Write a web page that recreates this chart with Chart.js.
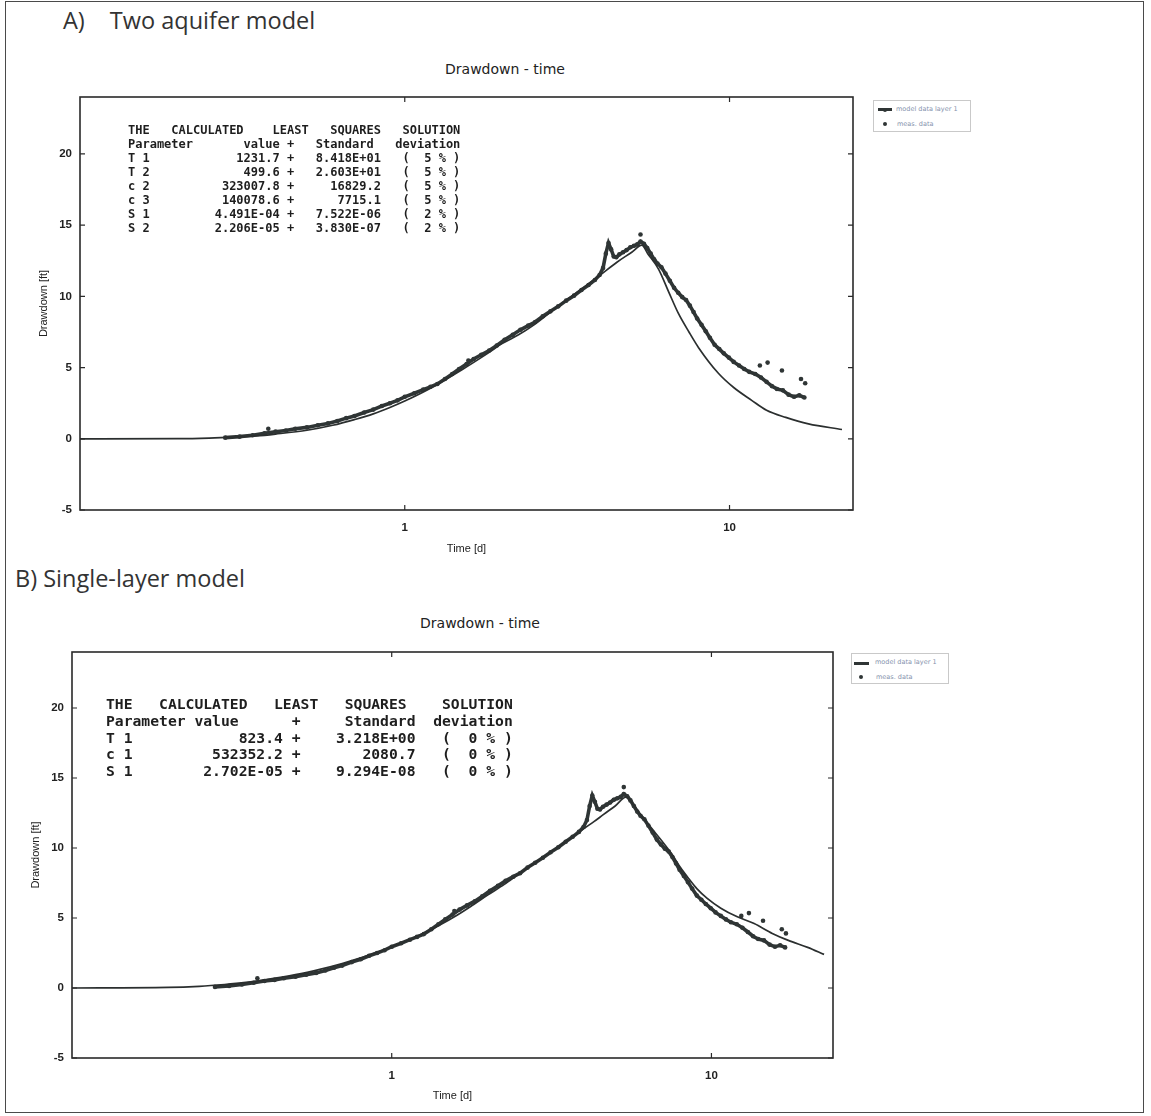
<!DOCTYPE html>
<html><head><meta charset="utf-8">
<script src="https://cdn.jsdelivr.net/npm/chart.js@4.4.0/dist/chart.umd.min.js"></script>
<style>
html,body{margin:0;padding:0;background:#fff;}
body{width:1151px;height:1116px;position:relative;overflow:hidden;}
.frame{position:absolute;left:5px;top:1px;width:1139px;height:1112px;border:1.5px solid #4a4a4a;box-sizing:border-box;}
.heading{position:absolute;font-family:"Open Sans",sans-serif;font-size:23.5px;color:#333;line-height:22px;white-space:pre;}
.ctitle{position:absolute;font-family:"DejaVu Sans",sans-serif;font-size:14px;color:#222;line-height:14px;transform:translateX(-50%);white-space:nowrap;}
canvas{position:absolute;left:0;}
.lsq{position:absolute;margin:0;font-family:"DejaVu Sans Mono",monospace;font-weight:bold;color:#1e1e1e;white-space:pre;}
.legend{position:absolute;border:1px solid #c9c9c9;box-sizing:border-box;background:#fff;width:98px;height:32px;}
.legend .ln{position:absolute;height:3px;background:#2f3535;}
.legend .dot{position:absolute;width:4px;height:4px;border-radius:50%;background:#2f3535;}
.legend .tx{position:absolute;font-family:"DejaVu Sans",sans-serif;font-size:6.5px;line-height:7px;color:#8592ad;white-space:nowrap;}
</style>
</head>
<body>
<div class="frame"></div>

<div class="heading" style="left:63px;top:9px;">A)<span style="margin-left:25px">Two aquifer model</span></div>
<div class="ctitle" style="left:505px;top:62px;">Drawdown - time</div>
<canvas id="chartA" width="870" height="470" style="top:90px;"></canvas>
<pre class="lsq" id="lsqA" style="left:128px;top:123px;font-size:12px;line-height:14.05px;"></pre>
<div class="legend" style="left:873px;top:100px;">
  <div class="ln" style="left:4px;top:7px;width:14px;"></div>
  <div class="dot" style="left:9px;top:6.5px;"></div>
  <div class="tx" style="left:22px;top:5px;">model data layer 1</div>
  <div class="dot" style="left:9px;top:21px;"></div>
  <div class="tx" style="left:23px;top:19.5px;">meas. data</div>
</div>

<div class="heading" style="left:15px;top:567px;">B) Single-layer model</div>
<div class="ctitle" style="left:480px;top:616px;">Drawdown - time</div>
<canvas id="chartB" width="850" height="470" style="top:645px;"></canvas>
<pre class="lsq" id="lsqB" style="left:106px;top:696px;font-size:14.7px;line-height:16.8px;"></pre>
<div class="legend" style="left:851px;top:653px;height:31px;">
  <div class="ln" style="left:2px;top:8px;width:15px;"></div>
  <div class="tx" style="left:23px;top:5px;">model data layer 1</div>
  <div class="dot" style="left:7px;top:21px;"></div>
  <div class="tx" style="left:24px;top:19.5px;">meas. data</div>
</div>

<script>
// ---------------- data ----------------
const timeTickLabels = [1, 10];
const drawdownTickLabels = [-5, 0, 5, 10, 15, 20];

const lsqTextA = [
  "THE   CALCULATED    LEAST   SQUARES   SOLUTION",
  "Parameter       value +   Standard   deviation",
  "T 1            1231.7 +   8.418E+01   (  5 % )",
  "T 2             499.6 +   2.603E+01   (  5 % )",
  "c 2          323007.8 +     16829.2   (  5 % )",
  "c 3          140078.6 +      7715.1   (  5 % )",
  "S 1         4.491E-04 +   7.522E-06   (  2 % )",
  "S 2         2.206E-05 +   3.830E-07   (  2 % )"
];
const lsqTextB = [
  "THE   CALCULATED   LEAST   SQUARES    SOLUTION",
  "Parameter value      +     Standard  deviation",
  "T 1            823.4 +    3.218E+00   (  0 % )",
  "c 1         532352.2 +       2080.7   (  0 % )",
  "S 1        2.702E-05 +    9.294E-08   (  0 % )"
];

// Two aquifer model (computed curve)
const modelATime     = [0.1, 0.2, 0.25, 0.3, 0.35, 0.4, 0.5, 0.6, 0.7, 0.8, 0.9, 1.0, 1.2, 1.5, 1.8, 2.0, 2.24, 2.5, 3.0, 3.5, 4.0, 4.5, 5.0, 5.37, 5.6, 6.05, 6.5, 6.96, 7.5, 8.03, 9.24, 10.3, 11.7, 13.0, 14.9, 17.5, 22.2];
const modelADrawdown = [0.0, 0.01, 0.05, 0.12, 0.2, 0.33, 0.6, 0.95, 1.35, 1.75, 2.2, 2.65, 3.55, 4.85, 6.0, 6.7, 7.3, 8.0, 9.4, 10.5, 11.5, 12.4, 13.1, 13.6, 13.0, 11.9, 10.3, 8.8, 7.5, 6.4, 4.6, 3.6, 2.7, 2.0, 1.5, 1.05, 0.65];

// Single-layer model (computed curve)
const modelBTime     = [0.1, 0.2, 0.25, 0.3, 0.35, 0.4, 0.5, 0.6, 0.7, 0.8, 0.9, 1.0, 1.2, 1.4, 1.6, 1.8, 2.0, 2.25, 2.5, 3.0, 3.5, 4.0, 4.3, 4.6, 5.0, 5.42, 5.7, 6.0, 6.5, 7.0, 7.5, 8.0, 8.5, 9.0, 9.7, 10.7, 12.0, 13.6, 15.5, 17.4, 20.0, 22.5];
const modelBDrawdown = [0.0, 0.04, 0.12, 0.25, 0.4, 0.58, 0.95, 1.35, 1.75, 2.15, 2.55, 2.95, 3.7, 4.45, 5.2, 5.95, 6.65, 7.4, 8.15, 9.4, 10.45, 11.4, 11.9, 12.4, 13.0, 13.65, 13.1, 12.4, 11.4, 10.5, 9.6, 8.6, 7.8, 7.1, 6.4, 5.7, 5.1, 4.6, 3.9, 3.4, 2.9, 2.4];

// Measured drawdown (observation well)
const measTime = [0.28, 0.31, 0.34, 0.37, 0.40, 0.43, 0.46, 0.50, 0.54, 0.58, 0.62, 0.66, 0.70, 0.75, 0.80, 0.85, 0.90, 0.95, 1.00, 1.07, 1.14, 1.20, 1.26, 1.33, 1.40, 1.47, 1.55, 1.63, 1.72, 1.82, 1.92, 2.03, 2.15, 2.27, 2.40, 2.52, 2.66, 2.81, 2.97, 3.14, 3.32, 3.50, 3.68, 3.85, 3.98, 4.08, 4.16, 4.24, 4.32, 4.40, 4.48, 4.58, 4.70, 4.82, 4.95, 5.08, 5.20, 5.32, 5.45, 5.58, 5.72, 5.86, 6.00, 6.17, 6.35, 6.55, 6.75, 6.95, 7.15, 7.35, 7.55, 7.75, 7.95, 8.20, 8.45, 8.70, 9.00, 9.30, 9.60, 9.95, 10.3, 10.7, 11.1, 11.5, 12.0, 12.5, 13.0, 13.5, 14.0, 14.6, 15.2, 15.8, 16.4, 17.0];
const measDrawdown = [0.08, 0.15, 0.25, 0.38, 0.50, 0.58, 0.70, 0.80, 0.95, 1.08, 1.25, 1.45, 1.60, 1.85, 2.05, 2.30, 2.50, 2.70, 2.95, 3.20, 3.45, 3.65, 3.85, 4.20, 4.55, 4.90, 5.25, 5.60, 5.90, 6.20, 6.55, 6.95, 7.30, 7.65, 7.95, 8.20, 8.60, 8.95, 9.30, 9.70, 10.05, 10.45, 10.80, 11.15, 11.50, 12.00, 13.00, 13.75, 13.30, 12.80, 12.75, 12.95, 13.10, 13.25, 13.45, 13.55, 13.65, 13.85, 13.70, 13.40, 13.00, 12.60, 12.30, 12.05, 11.60, 11.10, 10.60, 10.25, 9.95, 9.75, 9.35, 8.90, 8.45, 8.00, 7.55, 7.10, 6.60, 6.30, 6.00, 5.70, 5.40, 5.15, 4.90, 4.70, 4.55, 4.30, 4.00, 3.70, 3.50, 3.40, 3.10, 2.95, 3.05, 2.90];
const measExtraTime     = [0.38, 1.57, 5.32, 12.4, 13.1, 14.5, 16.6, 17.1];
const measExtraDrawdown = [0.70, 5.50, 14.35, 5.15, 5.35, 4.80, 4.20, 3.90];

// ---------------- rendering ----------------
document.getElementById('lsqA').textContent = lsqTextA.join('\n');
document.getElementById('lsqB').textContent = lsqTextB.join('\n');

function pts(xs, ys) { return xs.map((x, i) => ({ x: x, y: ys[i] })); }
function isDecade(v) { const l = Math.log10(v); return Math.abs(l - Math.round(l)) < 1e-9; }

const frameTicks = {
  id: 'frameTicks',
  afterDatasetsDraw(chart) {
    const { ctx, chartArea: a, scales: { x, y } } = chart;
    ctx.save();
    ctx.strokeStyle = '#2a2a2a';
    ctx.lineWidth = 1.6;
    ctx.strokeRect(a.left, a.top, a.right - a.left, a.bottom - a.top);
    ctx.lineWidth = 1.2;
    ctx.beginPath();
    y.ticks.forEach(t => {
      if (!drawdownTickLabels.includes(t.value)) return;
      const p = y.getPixelForValue(t.value);
      ctx.moveTo(a.left, p); ctx.lineTo(a.left + 5, p);
      ctx.moveTo(a.right, p); ctx.lineTo(a.right - 5, p);
    });
    x.ticks.forEach(t => {
      const p = x.getPixelForValue(t.value);
      if (p <= a.left + 1 || p >= a.right - 1) return;
      const len = isDecade(t.value) ? 5 : 2.5;
      ctx.moveTo(p, a.bottom); ctx.lineTo(p, a.bottom - len);
      ctx.moveTo(p, a.top); ctx.lineTo(p, a.top + len);
    });
    ctx.stroke();
    ctx.restore();
  }
};

function makeChart(id, g, modelT, modelS) {
  return new Chart(document.getElementById(id), {
    type: 'scatter',
    data: {
      datasets: [
        { label: 'model', data: pts(modelT, modelS), showLine: true, borderColor: '#2b2f2f',
          borderWidth: 1.7, pointRadius: 0, cubicInterpolationMode: 'monotone', order: 1 },
        { label: 'measured', data: pts(measTime, measDrawdown), showLine: true, borderColor: '#2f3535',
          backgroundColor: '#2f3535', borderWidth: 3.6, pointRadius: 2.3, pointBorderWidth: 0, order: 2 },
        { label: 'measured (scatter)', data: pts(measExtraTime, measExtraDrawdown), showLine: false,
          pointRadius: 2.3, pointBorderWidth: 0, backgroundColor: '#2f3535', order: 3 }
      ]
    },
    options: {
      responsive: false, animation: false, devicePixelRatio: 1,
      layout: { padding: { left: 0, top: g.top, right: g.right, bottom: 0 } },
      plugins: { legend: { display: false }, tooltip: { enabled: false } },
      scales: {
        x: {
          type: 'logarithmic', min: 0.1, max: 24, position: 'bottom',
          grid: { display: false, drawTicks: false }, border: { display: false },
          ticks: { autoSkip: false, maxRotation: 0, padding: g.xTickPad,
            font: { family: 'Liberation Sans', size: 11.5, weight: 'bold' }, color: '#222',
            callback: (v) => (timeTickLabels.some(t => Math.abs(t - v) < 1e-9) ? String(v) : null) },
          title: { display: true, text: 'Time [d]', font: { family: 'Liberation Sans', size: 11 }, color: '#222',
            padding: { top: 0, bottom: g.xTitlePad } },
          afterFit: (s) => { s.height = g.xAxisH; s.paddingLeft = 0; s.paddingRight = 0; }
        },
        y: {
          min: -5, max: 24, position: 'left',
          grid: { display: false, drawTicks: false }, border: { display: false },
          ticks: { stepSize: 5, padding: g.yTickPad, font: { family: 'Liberation Sans', size: 11.5, weight: 'bold' }, color: '#222',
            callback: (v) => (drawdownTickLabels.includes(v) ? String(v) : null) },
          title: { display: true, text: 'Drawdown [ft]', font: { family: 'Liberation Sans', size: 11 }, color: '#222',
            padding: { top: g.yTitlePad, bottom: 0 } },
          afterFit: (s) => { s.width = g.plotLeft; s.paddingTop = 0; s.paddingBottom = 0; }
        }
      }
    },
    plugins: [frameTicks]
  });
}

makeChart('chartA', { top: 7, right: 17, plotLeft: 80, xAxisH: 50, xTickPad: 11, xTitlePad: 4, yTickPad: 8, yTitlePad: 37 },
  modelATime, modelADrawdown);
makeChart('chartB', { top: 7, right: 17, plotLeft: 72, xAxisH: 57, xTickPad: 11, xTitlePad: 12, yTickPad: 8, yTitlePad: 29 },
  modelBTime, modelBDrawdown);
</script>
</body></html>
